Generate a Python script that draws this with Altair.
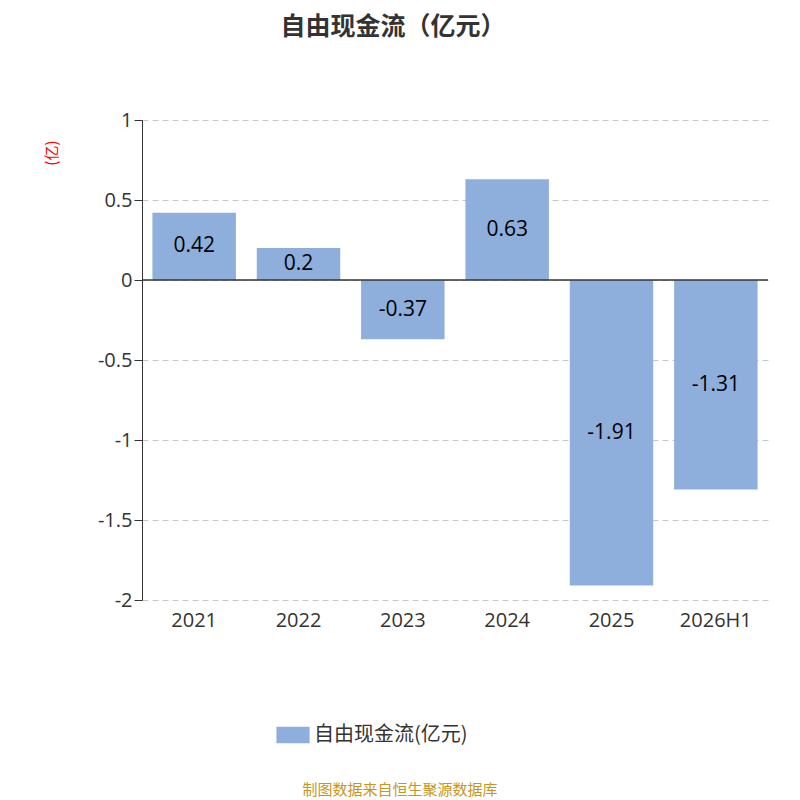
import altair as alt
import pandas as pd

years = ["2021", "2022", "2023", "2024", "2025", "2026H1"]
values = [0.42, 0.2, -0.37, 0.63, -1.91, -1.31]
series = "自由现金流(亿元)"

df = pd.DataFrame({"year": years, "value": values, "series": series})
FONT = "Open Sans, Noto Sans CJK SC"
CJK = "Noto Sans CJK SC"
BAR = "#8eaedb"

x = alt.X("year:N", sort=years, title=None,
          scale=alt.Scale(paddingInner=0.2, paddingOuter=0.1),
          axis=alt.Axis(labelAngle=0, labelFontSize=20, labelColor="#333", domain=False,
                        ticks=False, labelPadding=10))

bars = alt.Chart(df).mark_bar().encode(
    x=x,
    y=alt.Y("value:Q", title="(亿)", scale=alt.Scale(domain=[-2, 1], nice=False),
            axis=alt.Axis(values=[1, 0.5, 0, -0.5, -1, -1.5, -2], format=".1~f",
                          labelExpr="replace(datum.label, '\u2212', '-')",
                          labelFontSize=20, labelColor="#333", domainColor="#333",
                          tickColor="#333", tickSize=8, gridDash=[6, 4], gridColor="#c8c8c8",
                          titleColor="red", titleFontSize=15, titleFontWeight="normal",
                          titleFont=CJK, titleAlign="right", titleY=20, titlePadding=38)),
    color=alt.Color("series:N", scale=alt.Scale(range=[BAR]),
                    legend=alt.Legend(title=None, orient="none", legendX=134, legendY=598,
                                      labelFontSize=20, labelColor="#333", labelFont=CJK,
                                      symbolType="M-1,-0.5H1V0.5H-1Z", symbolSize=1100,
                                      symbolStrokeWidth=0, symbolOpacity=1)),
)

labels = alt.Chart(df).mark_text(fontSize=21, color="black", font=FONT).encode(
    x=alt.X("year:N", sort=years),
    y=alt.Y("mid:Q"),
    text=alt.Text("txt:N"),
).transform_calculate(mid="datum.value / 2", txt="'' + datum.value")

zero = alt.Chart(pd.DataFrame({"z": [0]})).mark_rule(color="#333", strokeWidth=1.5).encode(y="z:Q")

source = alt.Chart(pd.DataFrame({"t": ["制图数据来自恒生聚源数据库"]})).mark_text(
    fontSize=15, color="#c8961e", font=CJK
).encode(x=alt.value(258), y=alt.value(670), text="t:N")

chart = (
    alt.layer(bars, labels, zero, source)
    .properties(
        width=626, height=480,
        autosize=alt.AutoSizeParams(type="none"),
        padding={"left": 134, "top": 112, "right": 24, "bottom": 200},
        title=alt.Title("自由现金流（亿元）", fontSize=25, font=CJK, color="#333",
                        offset=70, anchor="middle", dx=-62),
    )
    .configure(font=FONT)
    .configure_view(strokeWidth=0)
)
chart.save("out.html", embed_options={"renderer": "svg", "actions": False})
